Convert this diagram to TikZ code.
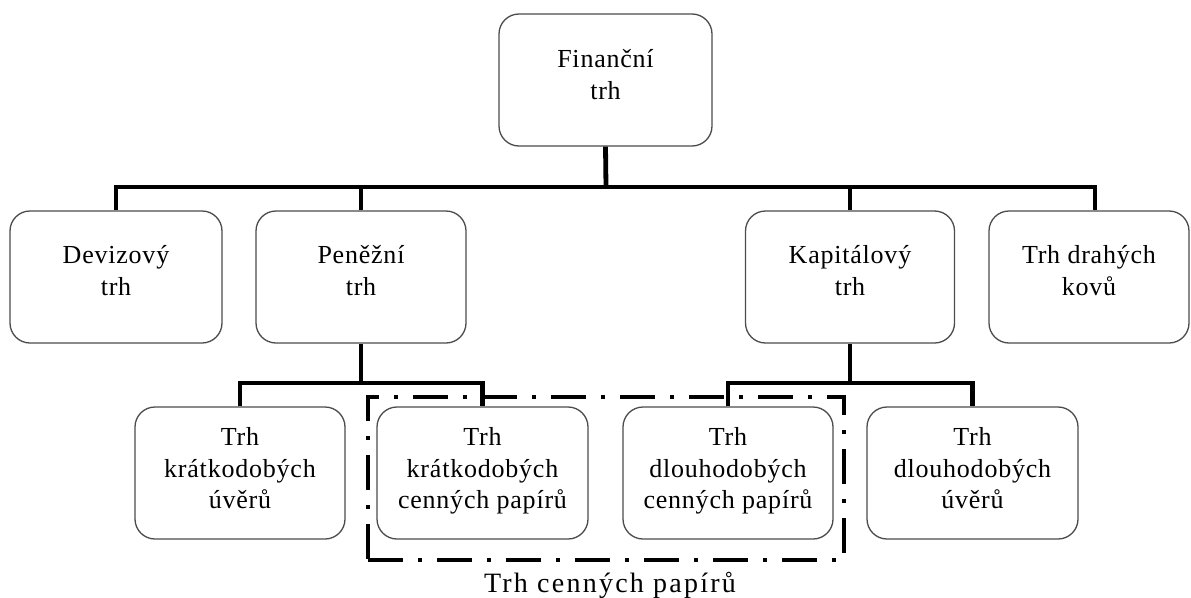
\documentclass[tikz,border=0pt]{standalone}
\usepackage{fontspec}
\setmainfont{Liberation Serif}
\newfontfamily\boxfont{Liberation Serif}[LetterSpace=3]
\newfontfamily\capfont{Liberation Serif}[LetterSpace=8]
\begin{document}
\begin{tikzpicture}[x=1pt,y=-1pt,
  box/.style={draw=black!70, line width=1.3pt, rounded corners=20pt,
    minimum height=132pt, inner sep=0pt, fill=white},
  txt/.style={align=center, inner sep=0pt,
    font=\boxfont\fontsize{26}{31.5}\selectfont},
  conn/.style={draw=black, line width=4.8pt, line join=miter},
  frame/.style={draw=black, line width=4pt, inner sep=0pt,
    dash pattern=on 35pt off 15pt on 4pt off 15pt}]
\useasboundingbox (0,0) rectangle (1191,597);

% level 0
\node[box, minimum width=213pt] (fin) at (605.5,80) {};
% level 1
\node[box, minimum width=212pt] (dev) at (116,277) {};
\node[box, minimum width=210pt] (pen) at (361,277) {};
\node[box, minimum width=209pt] (kap) at (850,277) {};
\node[box, minimum width=200pt] (kov) at (1089,277) {};
% level 2
\node[box, minimum width=210pt] (kru) at (240,473) {};
\node[box, minimum width=211pt] (kcp) at (482.5,473) {};
\node[box, minimum width=210pt] (dcp) at (728,473) {};
\node[box, minimum width=211pt] (dlu) at (972.5,473) {};

% box texts (yshift is in canvas units: positive moves up)
\node[txt] (fint) at ([yshift=3pt]fin.center) {\strut Finanční\\\strut trh};
\node[txt] (devt) at ([yshift=4pt]dev.center) {\strut Devizový\\\strut trh};
\node[txt] (pent) at ([yshift=4pt]pen.center) {\strut Peněžní\\\strut trh};
\node[txt] (kapt) at ([yshift=4pt]kap.center) {\strut Kapitálový\\\strut trh};
\node[txt] (kovt) at ([yshift=4pt]kov.center) {\strut Trh drahých\\\strut kovů};
\node[txt] (krut) at ([yshift=2pt]kru.center) {\strut Trh\\\strut krátkodobých\\\strut úvěrů};
\node[txt] (kcpt) at ([yshift=2pt]kcp.center) {\strut Trh\\\strut krátkodobých\\\strut cenných papírů};
\node[txt] (dcpt) at ([yshift=2pt]dcp.center) {\strut Trh\\\strut dlouhodobých\\\strut cenných papírů};
\node[txt] (dlut) at ([yshift=2pt]dlu.center) {\strut Trh\\\strut dlouhodobých\\\strut úvěrů};

% bus lines
\coordinate (busA) at (606,187);
\coordinate (busB) at (0,383);
\coordinate (kovin) at ([xshift=6pt]kov.north);

\draw[conn] (fin.south) -- (busA);
\draw[conn] (dev.north) -- (dev.north |- busA) -- (kovin |- busA) -- (kovin);
\draw[conn] (pen.north) -- (pen.north |- busA);
\draw[conn] (kap.north) -- (kap.north |- busA);

\draw[conn] (pen.south) -- (pen.south |- busB);
\draw[conn] (kru.north) -- (kru.north |- busB) -- (kcp.north |- busB) -- (kcp.north);
\draw[conn] (kap.south) -- (kap.south |- busB);
\draw[conn] (dcp.north) -- (dcp.north |- busB) -- (dlu.north |- busB) -- (dlu.north);

% securities market frame
\node[frame, minimum width=476pt, minimum height=163pt] (cp) at (606,478.5) {};
\node[anchor=base, inner sep=0pt, font=\capfont\fontsize{28}{32}\selectfont]
  (cpl) at (610,592) {Trh cenných papírů};
\end{tikzpicture}
\end{document}
